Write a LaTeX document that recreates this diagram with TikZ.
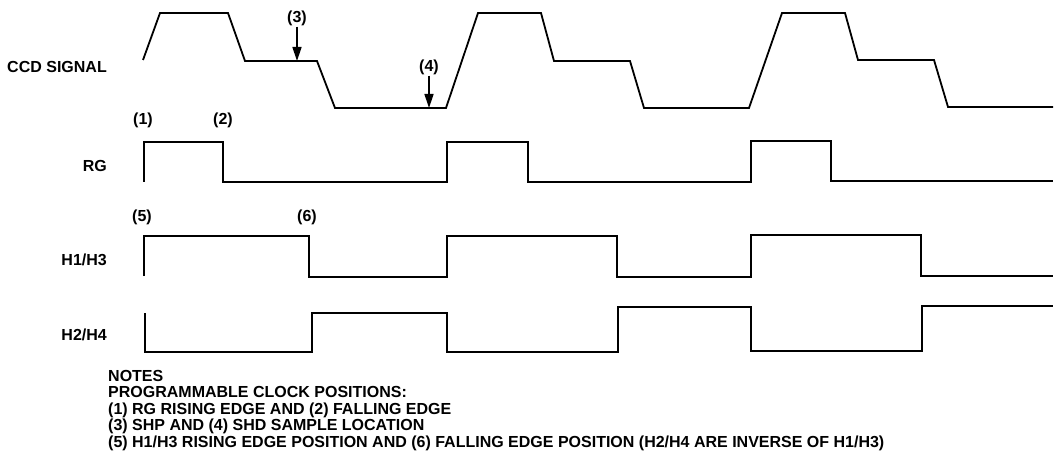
\documentclass[tikz,border=0pt]{standalone}
\usepackage{fontspec}
\setmainfont{Liberation Sans}
\usetikzlibrary{arrows.meta}
\usetikzlibrary{positioning}

\begin{document}
\begin{tikzpicture}[x=1pt,y=-1pt,
    sig/.style={line width=1.8pt},
    lbl/.style={anchor=base east, inner sep=0pt, font=\fontsize{16}{16}\selectfont\bfseries},
    num/.style={anchor=base, inner sep=0pt, font=\fontsize{16}{16}\selectfont\bfseries},
    note/.style={anchor=base west, inner sep=0pt, font=\fontsize{16}{16}\selectfont\bfseries},
    samp/.style={line width=1.4pt, -{Triangle[length=14pt,width=9pt]}}]

    \useasboundingbox (0,0) rectangle (1054,465);

    % Signal names
    \node[lbl] (ccd) at (107,72.5) {CCD SIGNAL};
    \node[lbl] (rg) at (107,171.5) {RG};
    \node[lbl] (h13) at (107,265.5) {H1/H3};
    \node[lbl] (h24) at (107,340) {H2/H4};

    % CCD signal
    \draw[sig] (143,60) -- (160,13) -- (228,13) -- (245,61) -- (317,61) -- (335,108)
        -- (446,108) -- (478,13) -- (541,13) -- (554,61) -- (630,61) -- (644,108)
        -- (749,108) -- (782,13) -- (845,13) -- (858,60) -- (934,60) -- (948,107)
        -- (1053,107);

    % Sample locations (3) and (4)
    \node[num] (n3) at (297,23) {(3)};
    \node[num] (n4) at (429,72) {(4)};
    \coordinate (shp) at (297,61);
    \coordinate (shd) at (429,108);
    \draw[samp] (n3.south) -- (shp);
    \draw[samp] (n4.south) -- (shd);

    % RG
    \node[num] (n1) at (143,124.5) {(1)};
    \node[num] (n2) at (223,124.5) {(2)};
    \draw[sig] (144,182) -- (144,142) -- (223,142) -- (223,182) -- (447,182)
        -- (447,142) -- (528,142) -- (528,182) -- (751,182) -- (751,141)
        -- (831,141) -- (831,181) -- (1053,181);

    % H1/H3
    \node[num] (n5) at (142,221) {(5)};
    \node[num] (n6) at (307,221) {(6)};
    \draw[sig] (144,276) -- (144,236) -- (309,236) -- (309,277) -- (447,277)
        -- (447,236) -- (617,236) -- (617,277) -- (751,277) -- (751,235)
        -- (921,235) -- (921,276) -- (1053,276);

    % H2/H4
    \draw[sig] (145,313) -- (145,352) -- (312,352) -- (312,313) -- (447,313)
        -- (447,352) -- (618,352) -- (618,307) -- (751,307) -- (751,351)
        -- (922,351) -- (922,306) -- (1053,306);

    % Notes
    \foreach \txt [count=\i] in {{NOTES},
        {PROGRAMMABLE CLOCK POSITIONS:},
        {(1) RG RISING EDGE AND (2) FALLING EDGE},
        {(3) SHP AND (4) SHD SAMPLE LOCATION},
        {(5) H1/H3 RISING EDGE POSITION AND (6) FALLING EDGE POSITION (H2/H4 ARE INVERSE OF H1/H3)}} {
        \node[note] (note\i) at (108,364.5+16.5*\i) {\txt};
    }

\end{tikzpicture}
\end{document}
